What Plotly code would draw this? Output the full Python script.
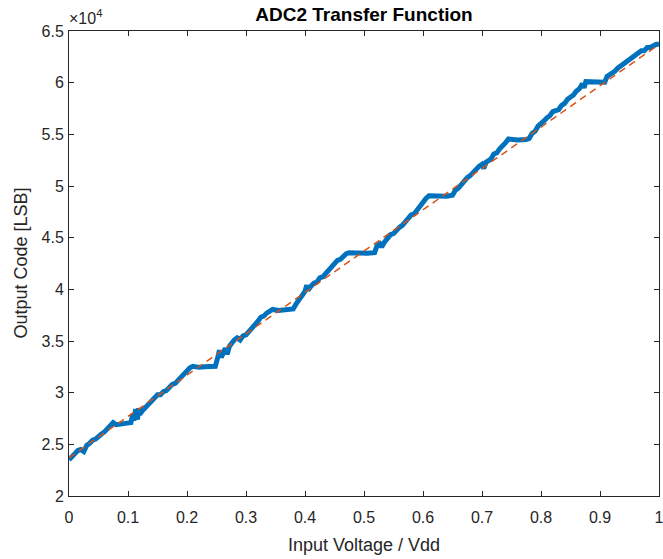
import plotly.graph_objects as go

x_meas = [0.000, 0.005, 0.010, 0.015, 0.020, 0.025, 0.030, 0.035, 0.040, 0.045,
          0.050, 0.055, 0.060, 0.065, 0.070, 0.075, 0.080, 0.090, 0.100, 0.105,
          0.108, 0.110, 0.113, 0.116, 0.118, 0.120, 0.125, 0.130, 0.135, 0.140,
          0.145, 0.150, 0.155, 0.160, 0.165, 0.170, 0.175, 0.180, 0.185, 0.190,
          0.195, 0.200, 0.205, 0.210, 0.220, 0.230, 0.240, 0.248, 0.252, 0.255,
          0.258, 0.262, 0.265, 0.268, 0.272, 0.280, 0.285, 0.290, 0.295, 0.300,
          0.305, 0.310, 0.315, 0.320, 0.325, 0.330, 0.335, 0.340, 0.345, 0.355,
          0.365, 0.375, 0.380, 0.385, 0.390, 0.395, 0.400, 0.403, 0.405, 0.410,
          0.415, 0.420, 0.425, 0.430, 0.435, 0.440, 0.445, 0.450, 0.455, 0.460,
          0.465, 0.470, 0.475, 0.490, 0.505, 0.518, 0.522, 0.527, 0.530, 0.535,
          0.540, 0.545, 0.550, 0.555, 0.560, 0.565, 0.570, 0.575, 0.580, 0.585,
          0.590, 0.595, 0.600, 0.605, 0.610, 0.625, 0.640, 0.650, 0.655, 0.660,
          0.665, 0.670, 0.675, 0.680, 0.685, 0.690, 0.695, 0.700, 0.703, 0.707,
          0.710, 0.715, 0.720, 0.725, 0.730, 0.735, 0.740, 0.745, 0.760, 0.775,
          0.780, 0.785, 0.790, 0.795, 0.800, 0.805, 0.810, 0.815, 0.820, 0.825,
          0.830, 0.835, 0.840, 0.845, 0.850, 0.855, 0.860, 0.865, 0.870, 0.873,
          0.876, 0.880, 0.890, 0.900, 0.908, 0.912, 0.918, 0.925, 0.930, 0.935,
          0.940, 0.945, 0.950, 0.955, 0.960, 0.965, 0.970, 0.975, 0.980, 0.985,
          0.990, 0.995, 1.000]
y_meas = [23500, 23900, 24100, 24400, 24500, 24300, 24900, 25100, 25400, 25500,
          25800, 26000, 26200, 26500, 26700, 27100, 26900, 26950, 27000, 27100,
          27900, 27300, 28400, 27400, 28500, 27900, 28300, 28600, 28900, 29300,
          29500, 29800, 29800, 30100, 30200, 30500, 30800, 30900, 31200, 31600,
          31800, 32100, 32400, 32550, 32450, 32500, 32500, 32550, 33400, 34100,
          33400, 33900, 34300, 33700, 34500, 35100, 35300, 35100, 35500, 35600,
          35900, 36300, 36500, 36900, 37300, 37400, 37700, 37900, 38050, 37950,
          38000, 38000, 38100, 38600, 39000, 39400, 39800, 40400, 39900, 40300,
          40600, 40700, 41100, 41200, 41500, 41900, 42200, 42400, 42800, 42900,
          43200, 43450, 43550, 43500, 43500, 43550, 44200, 44400, 44100, 44600,
          44900, 45300, 45400, 45800, 46000, 46200, 46600, 46800, 47200, 47300,
          47700, 48100, 48400, 48800, 49050, 49000, 49000, 49100, 49600, 49800,
          50200, 50400, 50800, 51000, 51300, 51700, 51900, 52100, 51700, 52300,
          52400, 52600, 53100, 53200, 53600, 54000, 54200, 54550, 54450, 54500,
          54600, 55100, 55300, 55800, 56000, 56300, 56600, 56800, 57200, 57300,
          57400, 57800, 58000, 58400, 58600, 58800, 59200, 59400, 59900, 59500,
          60100, 60100, 60000, 60000, 60050, 60600, 60800, 61100, 61400, 61600,
          61900, 62000, 62300, 62400, 62700, 62800, 63100, 63100, 63400, 63400,
          63600, 63700, 63750]

# Linear fit (ideal line)
x_fit = [0.0, 1.0]
y_fit = [23700, 63700]

y_ticks = [20000, 25000, 30000, 35000, 40000, 45000, 50000, 55000, 60000, 65000]
y_tick_labels = ["2", "2.5", "3", "3.5", "4", "4.5", "5", "5.5", "6", "6.5"]
x_ticks = [0, 0.1, 0.2, 0.3, 0.4, 0.5, 0.6, 0.7, 0.8, 0.9, 1]
x_tick_labels = ["0", "0.1", "0.2", "0.3", "0.4", "0.5", "0.6", "0.7", "0.8", "0.9", "1"]

FONT = "Liberation Sans, Arial, Helvetica"
GRAY = "#262626"

fig = go.Figure()
fig.add_trace(go.Scatter(x=x_meas, y=y_meas, mode="lines",
                         line=dict(color="#0072BD", width=5),
                         showlegend=False))
fig.add_trace(go.Scatter(x=x_fit, y=y_fit, mode="lines",
                         line=dict(color="#D95319", width=1.5, dash="7px,5px"),
                         showlegend=False))

axis_common = dict(showgrid=False, zeroline=False, showline=True, linecolor=GRAY,
                   linewidth=1, mirror="ticks", ticks="inside", ticklen=5,
                   tickcolor=GRAY, automargin=False, ticklabeloverflow="allow",
                   tickfont=dict(family=FONT, size=16, color=GRAY))

fig.update_xaxes(range=[0, 1], tickvals=x_ticks, ticktext=x_tick_labels,
                 ticklabelstandoff=7, **axis_common)
fig.update_yaxes(range=[20000, 65000], tickvals=y_ticks, ticktext=y_tick_labels,
                 ticklabelstandoff=1, **axis_common)

fig.update_layout(
    width=663, height=559,
    margin=dict(l=69, r=4, t=31, b=63, autoexpand=False),
    plot_bgcolor="white", paper_bgcolor="white",
    title=dict(text="<b>ADC2 Transfer Function</b>", x=0.5, xref="paper", xanchor="center",
               y=1, yref="paper", yanchor="bottom", pad=dict(b=10), automargin=False,
               font=dict(family=FONT, size=19, color="black")),
    annotations=[
        dict(text="×10<sup>4</sup>", xref="paper", yref="paper", x=0, y=1,
             xanchor="left", yanchor="bottom", showarrow=False,
             font=dict(family=FONT, size=16, color=GRAY), xshift=-2, yshift=2),
        dict(text="Input Voltage / Vdd", xref="paper", yref="paper", x=0.5, y=-0.105,
             xanchor="center", yanchor="middle", showarrow=False,
             font=dict(family=FONT, size=18, color=GRAY)),
        dict(text="Output Code [LSB]", xref="paper", yref="paper", x=-0.083, y=0.5,
             xanchor="center", yanchor="middle", textangle=-90, showarrow=False,
             font=dict(family=FONT, size=18, color=GRAY)),
    ],
)

fig.write_html("out.html", config={"displayModeBar": False},
               post_script="document.body.style.margin='0';document.body.style.overflow='hidden';")
